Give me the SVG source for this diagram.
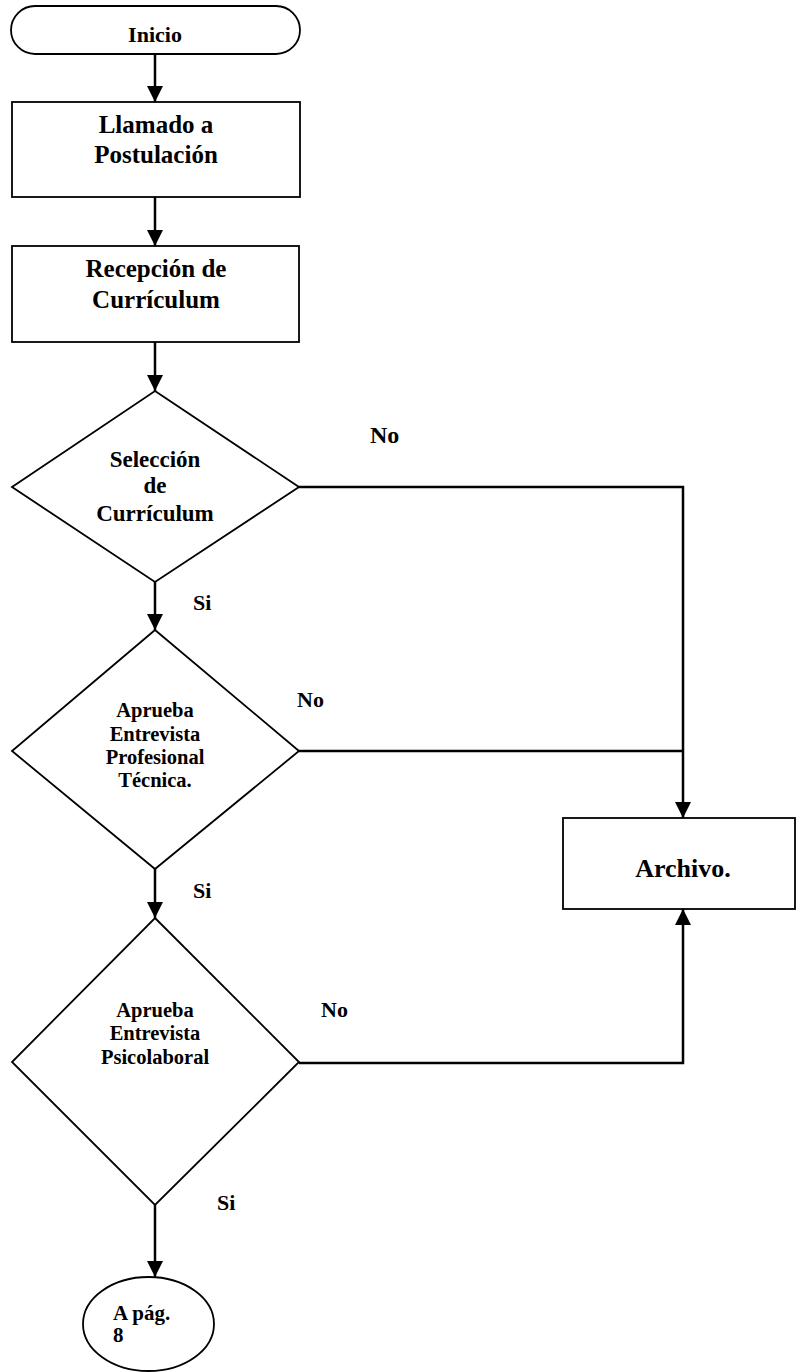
<svg xmlns="http://www.w3.org/2000/svg" width="796" height="1372" viewBox="0 0 796 1372">
<defs>
<style>
.shape{fill:#fff;stroke:#000;stroke-width:1.8}
.conn{fill:none;stroke:#000;stroke-width:2.5}
text{font-family:"Liberation Serif","Times New Roman",serif;font-weight:bold;fill:#000}
.c{text-anchor:middle}
</style>
<marker id="arr" markerUnits="userSpaceOnUse" markerWidth="18" markerHeight="18" refX="16" refY="8" orient="auto">
<path d="M0,0 L16,8 L0,16 Z" fill="#000"/>
</marker>
</defs>
<rect width="796" height="1372" fill="#fff"/>
<g id="connectors">
<line class="conn" x1="155" y1="54" x2="155" y2="102" marker-end="url(#arr)"/>
<line class="conn" x1="155" y1="197" x2="155" y2="246" marker-end="url(#arr)"/>
<line class="conn" x1="155" y1="342" x2="155" y2="391" marker-end="url(#arr)"/>
<line class="conn" x1="155" y1="582" x2="155" y2="630" marker-end="url(#arr)"/>
<line class="conn" x1="155" y1="869" x2="155" y2="918" marker-end="url(#arr)"/>
<line class="conn" x1="155" y1="1205" x2="155" y2="1277" marker-end="url(#arr)"/>
<polyline class="conn" points="299,487 683,487 683,818" marker-end="url(#arr)"/>
<line class="conn" x1="299" y1="751" x2="683" y2="751"/>
<polyline class="conn" points="299,1063 683,1063 683,909" marker-end="url(#arr)"/>
<text x="370" y="443" font-size="24">No</text>
<text x="193" y="610" font-size="22">Si</text>
<text x="297" y="707" font-size="22">No</text>
<text x="193" y="898" font-size="22">Si</text>
<text x="321" y="1017" font-size="22">No</text>
<text x="217" y="1210" font-size="22">Si</text>
</g>
<g id="inicio">
<rect class="shape" x="11" y="6" width="289" height="48" rx="24" ry="24"/>
<text class="c" x="155" y="42" font-size="22">Inicio</text>
</g>
<g id="llamado">
<rect class="shape" x="12" y="102" width="288" height="95"/>
<text class="c" x="156" y="133" font-size="25">Llamado a</text>
<text class="c" x="156" y="163" font-size="25">Postulación</text>
</g>
<g id="recepcion">
<rect class="shape" x="12" y="246" width="287" height="96"/>
<text class="c" x="156" y="277" font-size="25">Recepción de</text>
<text class="c" x="156" y="308" font-size="25">Currículum</text>
</g>
<g id="seleccion">
<polygon class="shape" points="155,391 299,487 155,582 12,487"/>
<text class="c" x="155" y="467" font-size="23">Selección</text>
<text class="c" x="155" y="493" font-size="23">de</text>
<text class="c" x="155" y="521" font-size="23">Currículum</text>
</g>
<g id="profesional">
<polygon class="shape" points="155,630 299,751 155,869 12,751"/>
<text class="c" x="155" y="717" font-size="20.5">Aprueba</text>
<text class="c" x="155" y="741" font-size="20.5">Entrevista</text>
<text class="c" x="155" y="764" font-size="20.5">Profesional</text>
<text class="c" x="155" y="787" font-size="20.5">Técnica.</text>
</g>
<g id="psicolaboral">
<polygon class="shape" points="155,918 299,1062 155,1205 12,1062"/>
<text class="c" x="155" y="1017" font-size="20.5">Aprueba</text>
<text class="c" x="155" y="1040" font-size="20.5">Entrevista</text>
<text class="c" x="155" y="1064" font-size="20.5">Psicolaboral</text>
</g>
<g id="archivo">
<rect class="shape" x="563" y="818" width="232" height="91"/>
<text class="c" x="683" y="877" font-size="26">Archivo.</text>
</g>
<g id="apag">
<ellipse class="shape" cx="148.5" cy="1324" rx="65.5" ry="47"/>
<text x="113" y="1320" font-size="21">A pág.</text>
<text x="113" y="1342" font-size="21">8</text>
</g>
</svg>
